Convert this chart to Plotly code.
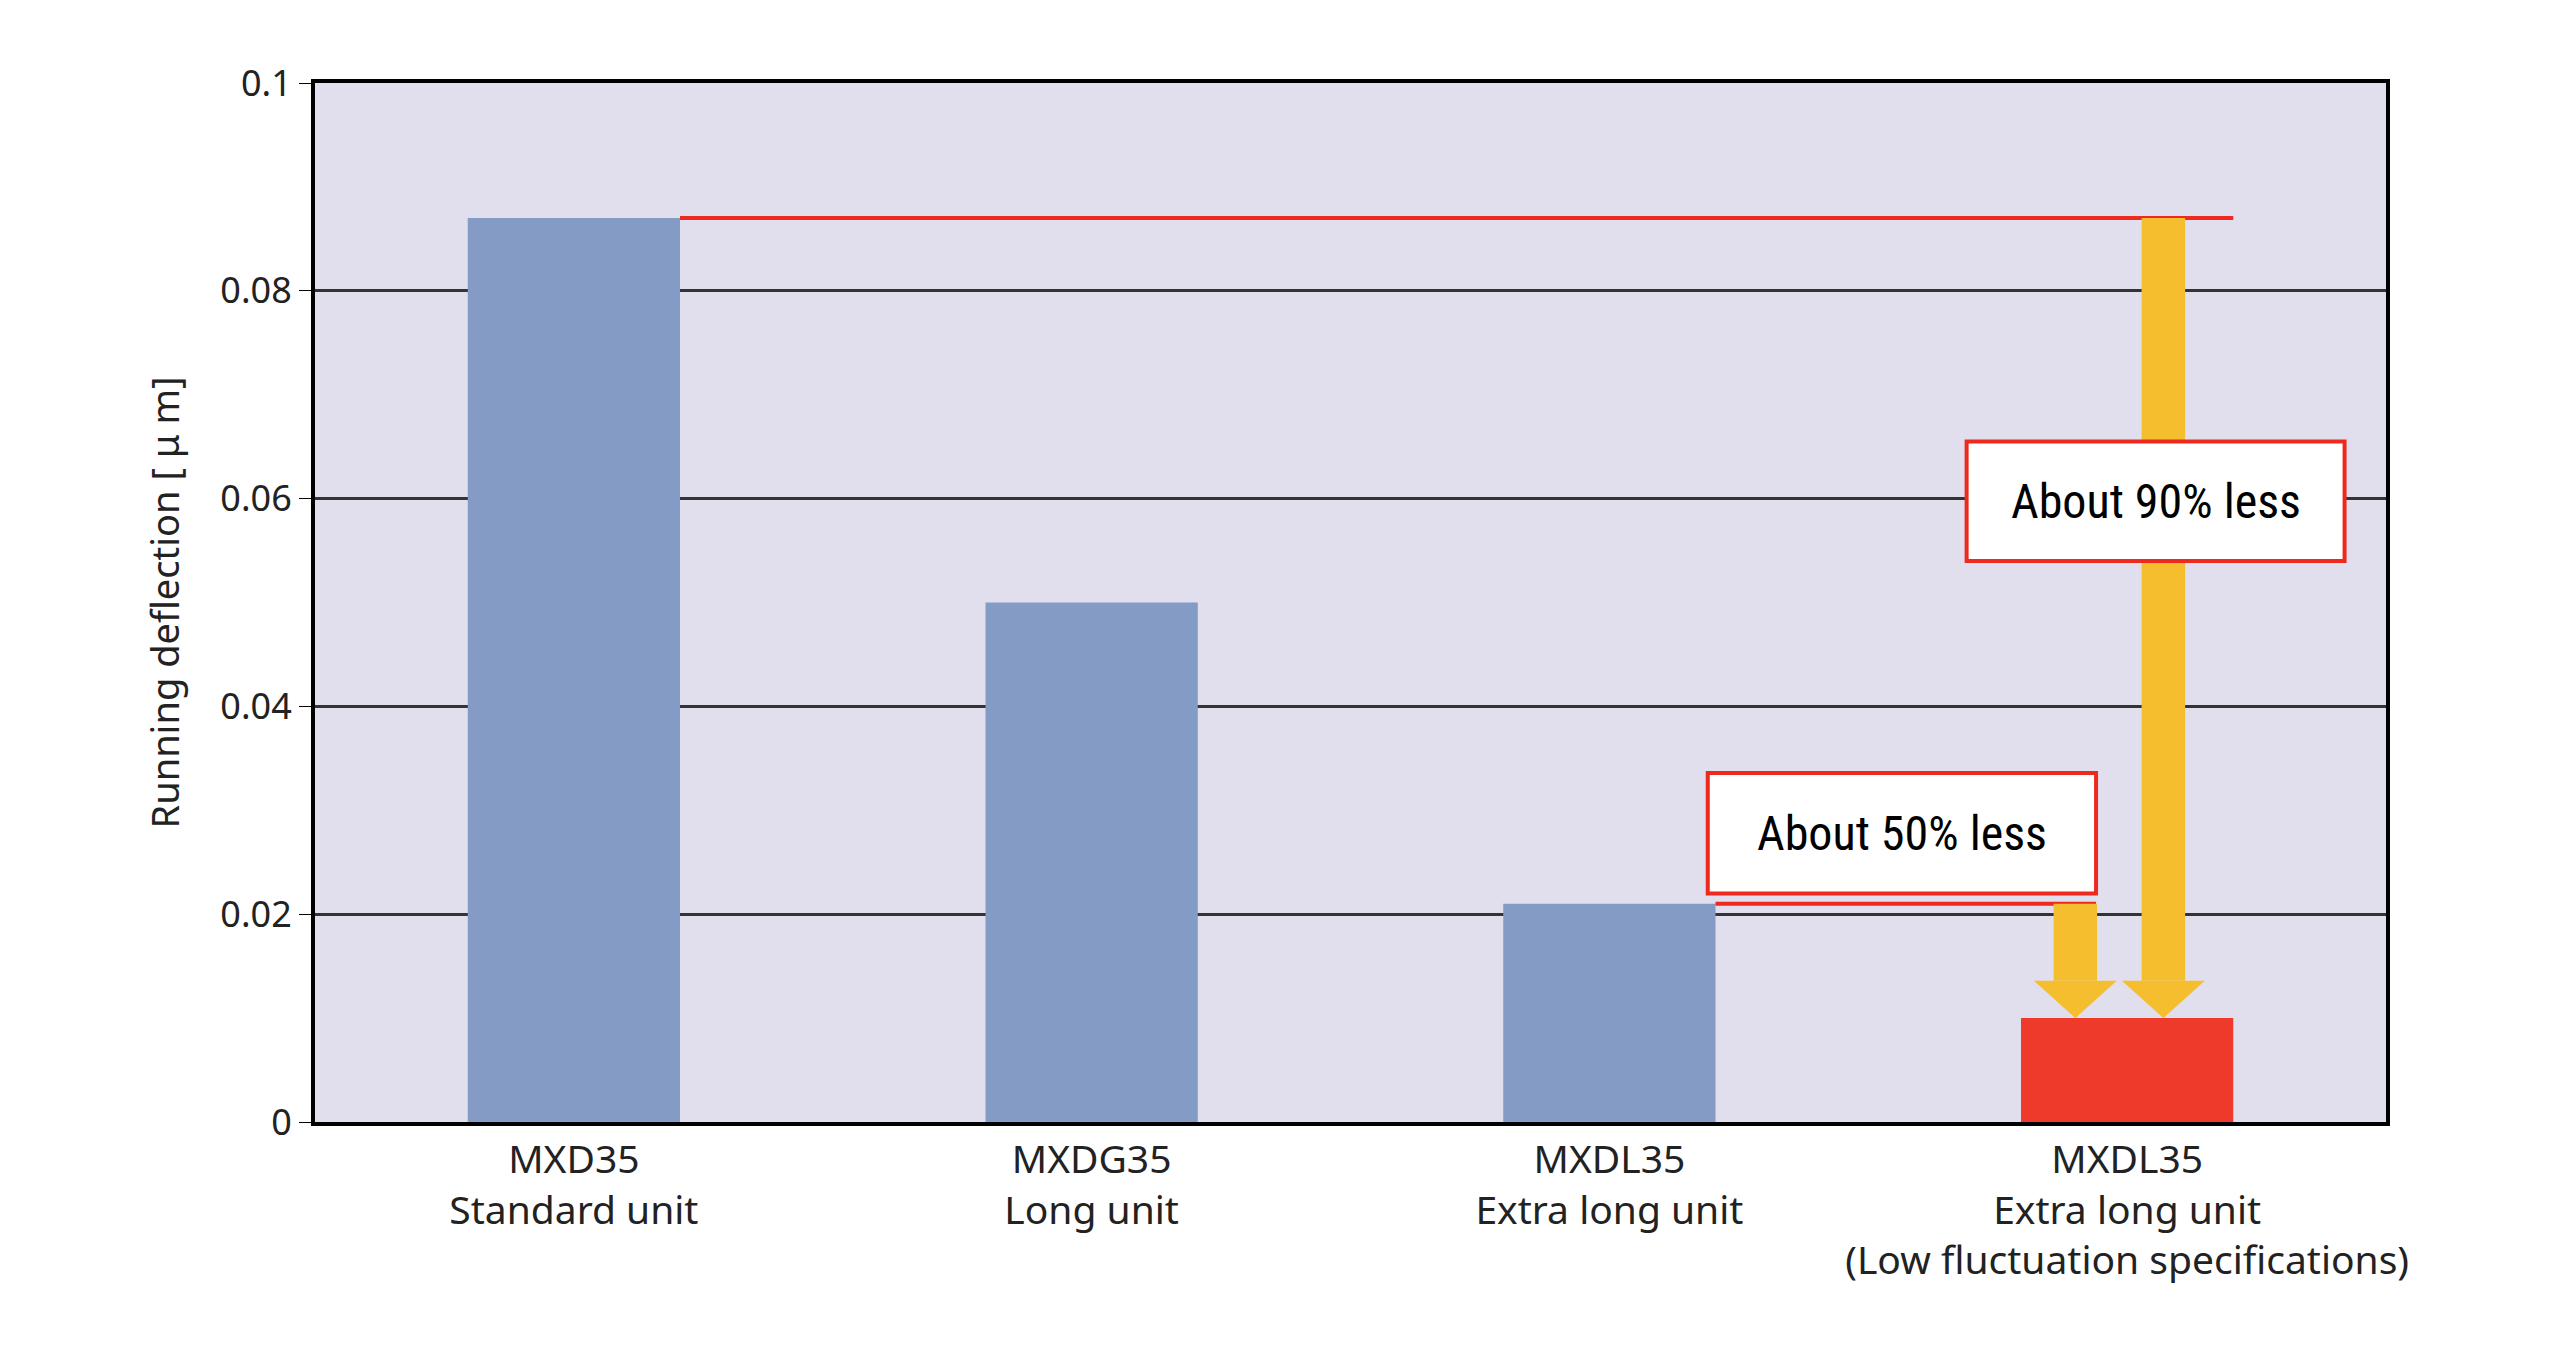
import plotly.graph_objects as go

categories = ["MXD35<br>Standard unit", "MXDG35<br>Long unit", "MXDL35<br>Extra long unit",
              "MXDL35<br>Extra long unit<br>(Low fluctuation specifications)"]
values = [0.087, 0.050, 0.021, 0.010]
bar_colors = ["#849BC6", "#849BC6", "#849BC6", "#EE3A2A"]
y_ticks = [0, 0.02, 0.04, 0.06, 0.08, 0.1]
y_tick_labels = ["0", "0.02", "0.04", "0.06", "0.08", "0.1"]

YELLOW = "#F5BE2E"
RED = "#EE2A1F"

fig = go.Figure()
fig.add_trace(go.Bar(x=[0, 1, 2, 3], y=values, marker_color=bar_colors, width=0.41,
                     marker_line_width=0, showlegend=False))

shapes = []
bw = 0.205
# red reference lines
shapes.append(dict(type="line", x0=0 + bw, x1=3 + bw, y0=values[0], y1=values[0],
                   line=dict(color=RED, width=4), layer="above"))
shapes.append(dict(type="line", x0=2 + bw, x1=2.94, y0=values[2], y1=values[2],
                   line=dict(color=RED, width=4), layer="above"))

# yellow arrows
def arrow(xc, ytop, ybot):
    head_h = 0.0036
    shapes.append(dict(type="rect", x0=xc - 0.042, x1=xc + 0.042, y0=ybot + head_h, y1=ytop,
                       fillcolor=YELLOW, line_width=0, layer="above"))
    shapes.append(dict(type="path",
                       path=f"M {xc-0.08},{ybot+head_h} L {xc+0.08},{ybot+head_h} L {xc},{ybot} Z",
                       fillcolor=YELLOW, line_width=0, layer="above"))

arrow(3.07, values[0], values[3])
arrow(2.90, values[2], values[3])

# boxes
boxes = [(2.69, 3.42, 0.054, 0.0655, "About 90% less"),
         (2.19, 2.94, 0.022, 0.0336, "About 50% less")]
annotations = []
for x0, x1, y0, y1, txt in boxes:
    shapes.append(dict(type="rect", x0=x0, x1=x1, y0=y0, y1=y1, fillcolor="white",
                       line=dict(color=RED, width=4), layer="above"))
    annotations.append(dict(x=(x0 + x1) / 2, y=(y0 + y1) / 2, text=txt, showarrow=False,
                            font=dict(size=48, color="black",
                                      family="Liberation Sans Narrow, Roboto Condensed, Arial Narrow")))

fig.update_layout(
    width=2560, height=1365,
    margin=dict(l=307, r=182, t=75, b=251),
    plot_bgcolor="#E1DFEE", paper_bgcolor="white",
    font=dict(family="Noto Sans, DejaVu Sans", size=36, color="#222"),
    shapes=shapes, annotations=annotations, bargap=0.59,
)
fig.update_xaxes(range=[-0.5, 3.5], tickvals=[0, 1, 2, 3], ticktext=categories,
                 showgrid=False, showline=True, linecolor="black", linewidth=4, mirror=True,
                 tickfont=dict(size=39))
fig.update_yaxes(range=[0, 0.1], tickvals=y_ticks, ticktext=y_tick_labels,
                 showgrid=True, gridcolor="#333", gridwidth=3,
                 showline=True, linecolor="black", linewidth=4, mirror=True,
                 ticks="outside", ticklen=12, tickcolor="black",
                 title=dict(text="Running deflection [ μ m]", font=dict(size=38), standoff=30),
                 tickfont=dict(size=36), zeroline=False)

fig.write_html("out.html")
